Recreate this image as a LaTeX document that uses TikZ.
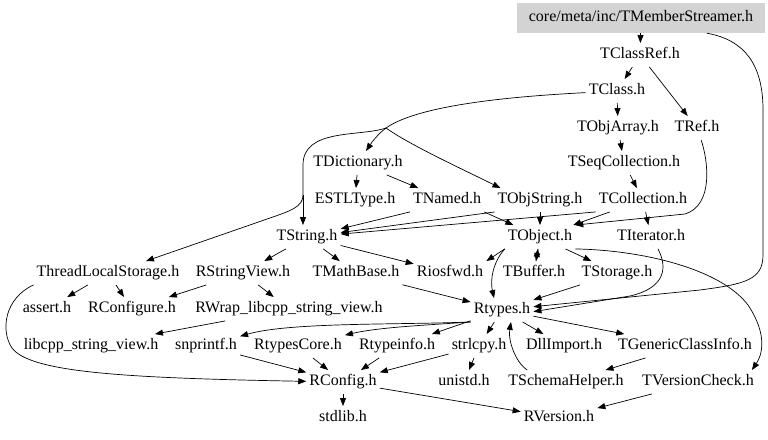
\documentclass[tikz,border=0pt]{standalone}
\usepackage{fontspec}
\setmainfont{Liberation Serif}
\usepackage{tikz}
\usetikzlibrary{arrows.meta}
\definecolor{rootgray}{RGB}{211,211,211}

\begin{document}
\begin{tikzpicture}[x=1pt,y=-1pt,
        file/.style={inner xsep=3pt,inner ysep=5pt,text height=10.5pt,text depth=3pt,font=\fontsize{16}{19}\selectfont},
        root/.style={file,fill=rootgray,minimum width=248pt,minimum height=30pt},
        dep/.style={line width=0.7pt,-{Triangle[length=8pt,width=6pt]}}]
        \useasboundingbox (0,0) rectangle (768,439);

        % Included file at the top
        \node[root] (tms) at (641,18) {core/meta/inc/TMemberStreamer.h};

        % Headers, one row per rank
        \node[file] (tclassref) at (640,55) {TClassRef.h};
        \node[file] (tclass) at (617,91) {TClass.h};
        \node[file] (tobjarray) at (618,128) {TObjArray.h};
        \node[file] (tref) at (697,128) {TRef.h};
        \node[file] (tdictionary) at (358,163) {TDictionary.h};
        \node[file] (tseqcoll) at (624,163) {TSeqCollection.h};
        \node[file] (estltype) at (355,200) {ESTLType.h};
        \node[file] (tnamed) at (447,200) {TNamed.h};
        \node[file] (tobjstring) at (540,200) {TObjString.h};
        \node[file] (tcollection) at (643,200) {TCollection.h};
        \node[file] (tstring) at (307,237) {TString.h};
        \node[file] (tobject) at (540,237) {TObject.h};
        \node[file] (titerator) at (651,237) {TIterator.h};
        \node[file] (tls) at (108,273) {ThreadLocalStorage.h};
        \node[file] (rstringview) at (243,273) {RStringView.h};
        \node[file] (tmathbase) at (356,273) {TMathBase.h};
        \node[file] (riosfwd) at (450,273) {Riosfwd.h};
        \node[file] (tbuffer) at (534,273) {TBuffer.h};
        \node[file] (tstorage) at (617,273) {TStorage.h};
        \node[file] (assert) at (47,309) {assert.h};
        \node[file] (rconfigure) at (132,309) {RConfigure.h};
        \node[file] (rwrap) at (289,309) {RWrap\_libcpp\_string\_view.h};
        \node[file] (rtypes) at (502,310) {Rtypes.h};
        \node[file] (libcpp) at (91,346) {libcpp\_string\_view.h};
        \node[file] (snprintf) at (206,346) {snprintf.h};
        \node[file] (rtypescore) at (298,346) {RtypesCore.h};
        \node[file] (rtypeinfo) at (397,346) {Rtypeinfo.h};
        \node[file] (strlcpy) at (479,346) {strlcpy.h};
        \node[file] (dllimport) at (564,346) {DllImport.h};
        \node[file] (tgenclass) at (685,346) {TGenericClassInfo.h};
        \node[file] (rconfig) at (343,382) {RConfig.h};
        \node[file] (unistd) at (464,382) {unistd.h};
        \node[file] (tschema) at (566,382) {TSchemaHelper.h};
        \node[file] (tversion) at (698,382) {TVersionCheck.h};
        \node[file] (stdlib) at (343,418) {stdlib.h};
        \node[file] (rversion) at (559,418) {RVersion.h};

        % Where the TClass.h edges split
        \coordinate (tclassfork) at (386,128);
        \coordinate (tclassdrop) at (303,195);

        % Straight includes
        \draw[dep] (tms) -- (tclassref);
        \draw[dep] (tclassref) -- (tclass);
        \draw[dep] (tclassref) -- (tref);
        \draw[dep] (tclass) -- (tobjarray);
        \draw[dep] (tobjarray) -- (tseqcoll);
        \draw[dep] (tseqcoll) -- (tcollection);
        \draw[dep] (tdictionary) -- (estltype);
        \draw[dep] (tdictionary) -- (tnamed);
        \draw[dep] (tnamed.south west) -- (tstring);
        \draw[dep] (tnamed.south east) -- (tobject);
        \draw[dep] (tobjstring.south west) -- (tstring);
        \draw[dep] (tobjstring) -- (tobject);
        \draw[dep] (tcollection.south west) -- (tstring);
        \draw[dep] (tcollection) -- (tobject);
        \draw[dep] (tcollection) -- (titerator);
        \draw[dep] (tstring) -- (rstringview);
        \draw[dep] (tstring) -- (tmathbase);
        \draw[dep] (tstring) -- (riosfwd);
        \draw[dep] (tobject.south west) -- (riosfwd.north east);
        \draw[dep] (tobject) -- (tbuffer);
        \draw[dep] (tbuffer) -- (tobject);
        \draw[dep] (tobject) -- (tstorage);
        \draw[dep] (tls) -- (assert);
        \draw[dep] (tls) -- (rconfigure);
        \draw[dep] (rstringview) -- (rconfigure);
        \draw[dep] (rstringview) -- (rwrap);
        \draw[dep] (rwrap) -- (libcpp);
        \draw[dep] (tmathbase) -- (rtypes);
        \draw[dep] (tstorage) -- (rtypes);
        \draw[dep] (rtypes) -- (rtypeinfo);
        \draw[dep] (rtypes) -- (strlcpy);
        \draw[dep] (rtypes) -- (dllimport);
        \draw[dep] (rtypes) -- (tgenclass);
        \draw[dep] (snprintf) -- (rconfig);
        \draw[dep] (rtypescore) -- (rconfig);
        \draw[dep] (rtypeinfo) -- (rconfig);
        \draw[dep] (strlcpy) -- (rconfig);
        \draw[dep] (strlcpy) -- (unistd);
        \draw[dep] (tgenclass) -- (tschema);
        \draw[dep] (tversion) -- (rversion);
        \draw[dep] (rconfig) -- (stdlib);
        \draw[dep] (rconfig) -- (rversion);

        % TClass.h fans out to the left
        \draw[line width=0.7pt] (tclass) .. controls (520,96) and (420,104) .. (tclassfork);
        \draw[line width=0.7pt] (tclassfork) .. controls (360,137) and (303,128) .. (303,165) -- (tclassdrop);
        \draw[dep] (tclassfork) .. controls (378,134) and (372,142) .. (tdictionary);
        \draw[dep] (tclassfork) .. controls (410,145) and (460,168) .. ([xshift=6pt]tobjstring.north west);
        \draw[dep] (tclassdrop) -- ([xshift=-4pt]tstring.north);
        \draw[dep] (tclassdrop) .. controls (303,207) and (290,211) .. (270,218) -- ([xshift=38pt]tls.north);

        % Long curved includes
        \draw[dep] (tms.-13) .. controls (745,40) and (763,65) .. (763,110) -- (763,255) .. controls (763,280) and (745,284) .. (700,290) -- (rtypes.6);
        \draw[dep] ([xshift=7pt]titerator.south) .. controls (668,268) and (665,288) .. (630,296) -- (rtypes.-3);
        \draw[dep] (tref) .. controls (708,160) and (714,205) .. (685,214) -- (tobject.north east);
        \draw[dep] (tobject.south west) .. controls (493,262) and (490,280) .. ([xshift=-8pt]rtypes.north);
        \draw[dep] (tobject.south east) .. controls (640,250) and (720,268) .. (748,305) .. controls (768,335) and (762,355) .. ([xshift=-5pt]tversion.north east);
        \draw[dep] (tls.south west) .. controls (5,298) and (0,330) .. (12,348) .. controls (30,372) and (120,378) .. (rconfig);
        \draw[dep] ([xshift=22pt]tschema.north west) .. controls (515,362) and (508,340) .. ([xshift=9pt]rtypes.south);
        \draw[dep] (rtypes.south west) .. controls (400,325) and (290,322) .. (snprintf);
        \draw[dep] (rtypes.south west) .. controls (430,325) and (380,327) .. (rtypescore);

    \end{tikzpicture}
\end{document}
